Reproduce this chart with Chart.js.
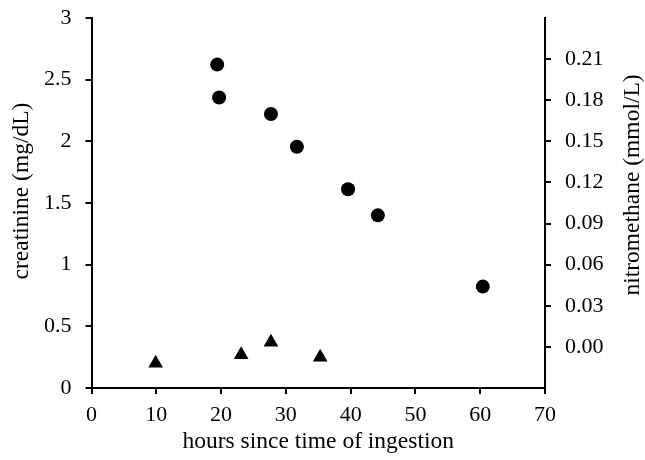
<!DOCTYPE html>
<html>
<head>
<meta charset="utf-8">
<script src="https://cdn.jsdelivr.net/npm/chart.js@4"></script>
<style>
  body { margin: 0; background: #fff; }
  #myChart { display: block; }
</style>
</head>
<body>
<canvas id="myChart" width="645" height="460"></canvas>
<script>
const ctx = document.getElementById("myChart");

// nitromethane (circles, right axis)
const horasNitro = [19.4, 19.7, 27.7, 31.7, 39.6, 44.2, 60.4];
const nitrometano = [0.206, 0.182, 0.170, 0.146, 0.115, 0.096, 0.044];

// creatinine (triangles, left axis)
const horasCreat = [9.9, 23.1, 27.7, 35.3];
const creatinina = [0.2, 0.27, 0.37, 0.25];

const ticksX = [0, 10, 20, 30, 40, 50, 60, 70];
const ticksIzq = [0, 0.5, 1, 1.5, 2, 2.5, 3];
const ticksDer = [0, 0.03, 0.06, 0.09, 0.12, 0.15, 0.18, 0.21];

const tituloIzq = "creatinine (mg/dL)";
const tituloDer = "nitromethane (mmol/L)";

const fuente = "'Liberation Serif', 'Times New Roman', serif";
const negro = "#000";

const puntos = (xs, ys) => xs.map((x, i) => ({ x: x, y: ys[i] }));

const ejeBase = {
  border: { display: true, color: negro, width: 2 },
  grid: {
    drawOnChartArea: false,
    drawTicks: true,
    tickLength: 6,
    color: negro,
    lineWidth: 2,
  },
};

// both vertical titles read bottom-to-top, Chart.js flips the right one
const titulosVerticales = {
  id: "titulosVerticales",
  afterDraw: (chart) => {
    const c = chart.ctx;
    const area = chart.chartArea;
    const medio = (area.top + area.bottom) / 2;
    c.save();
    c.fillStyle = negro;
    c.font = "23.5px " + fuente;
    c.textAlign = "center";
    c.textBaseline = "middle";
    [[22, medio - 12, tituloIzq], [633, medio - 18, tituloDer]].forEach(([x, y, texto]) => {
      c.save();
      c.translate(x, y);
      c.rotate(-Math.PI / 2);
      c.fillText(texto, 0, 0);
      c.restore();
    });
    c.restore();
  },
};

const myChart = new Chart(ctx, {
  type: "scatter",
  data: {
    datasets: [
      {
        label: "nitromethane",
        data: puntos(horasNitro, nitrometano),
        yAxisID: "y1",
        pointStyle: "circle",
        pointRadius: 7,
        backgroundColor: negro,
        borderWidth: 0,
      },
      {
        label: "creatinine",
        data: puntos(horasCreat, creatinina),
        yAxisID: "y",
        pointStyle: "triangle",
        pointRadius: 8.5,
        backgroundColor: negro,
        borderWidth: 0,
      },
    ],
  },
  plugins: [titulosVerticales],
  options: {
    responsive: false,
    animation: false,
    events: [],
    layout: { padding: { top: 18, left: 0, right: 0, bottom: 0 } },
    plugins: {
      legend: { display: false },
      tooltip: { enabled: false },
    },
    scales: {
      x: {
        ...ejeBase,
        type: "linear",
        position: "bottom",
        min: 0,
        max: 70,
        afterBuildTicks: (scale) => {
          scale.ticks = ticksX.map((v) => ({ value: v }));
        },
        afterFit: (scale) => {
          scale.height = 72;
          scale.paddingLeft = 0;
          scale.paddingRight = 0;
        },
        ticks: {
          color: negro,
          font: { family: fuente, size: 22 },
          padding: 8,
          maxRotation: 0,
        },
        title: {
          display: true,
          text: "hours since time of ingestion",
          color: negro,
          font: { family: fuente, size: 23.5, lineHeight: 1 },
          padding: { top: 0, bottom: 6 },
        },
      },
      y: {
        ...ejeBase,
        type: "linear",
        position: "left",
        min: 0,
        max: 3,
        afterBuildTicks: (scale) => {
          scale.ticks = ticksIzq.map((v) => ({ value: v }));
        },
        afterFit: (scale) => {
          scale.width = 91.5;
          scale.paddingTop = 0;
          scale.paddingBottom = 0;
        },
        ticks: {
          color: negro,
          font: { family: fuente, size: 22 },
          padding: 14,
          callback: (v) => String(v),
        },
      },
      y1: {
        ...ejeBase,
        type: "linear",
        position: "right",
        min: -0.03,
        max: 0.24,
        afterBuildTicks: (scale) => {
          scale.ticks = ticksDer.map((v) => ({ value: v }));
        },
        afterFit: (scale) => {
          scale.width = 100;
          scale.paddingTop = 0;
          scale.paddingBottom = 0;
        },
        ticks: {
          color: negro,
          font: { family: fuente, size: 22 },
          padding: 14,
          callback: (v) => v.toFixed(2),
        },
      },
    },
  },
});
</script>
</body>
</html>
